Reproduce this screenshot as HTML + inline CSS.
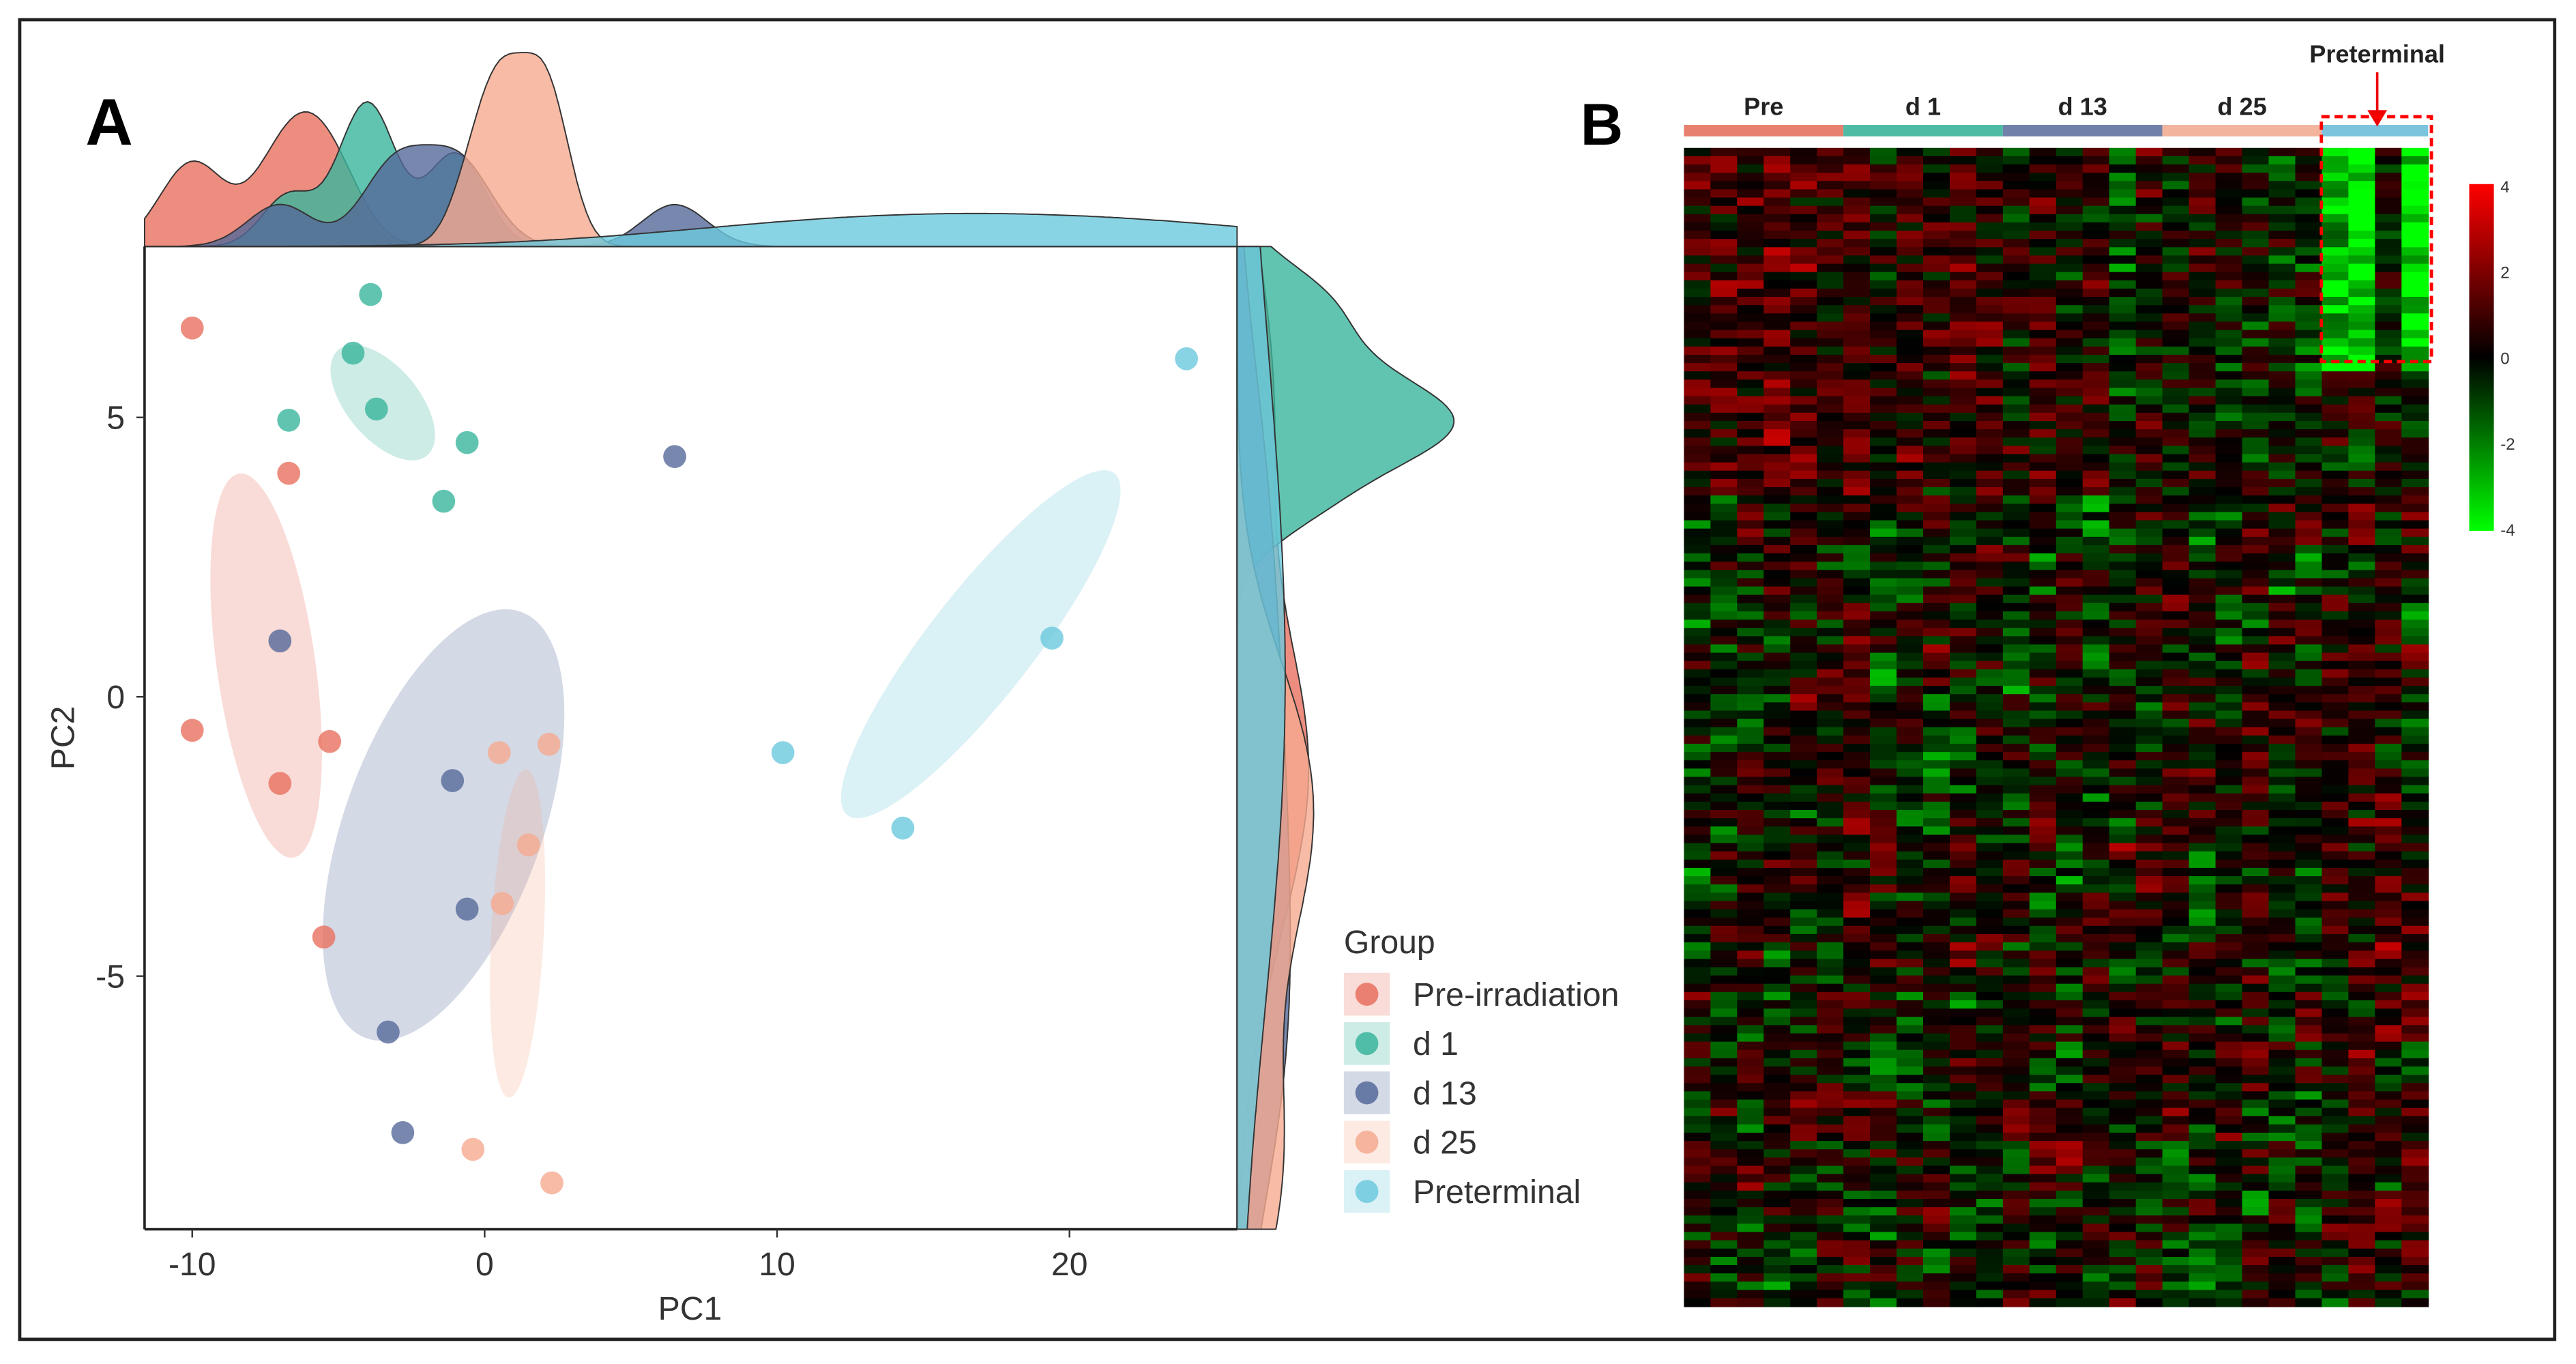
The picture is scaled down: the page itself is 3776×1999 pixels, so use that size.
<!DOCTYPE html>
<html><head><meta charset="utf-8"><style>
html,body{margin:0;padding:0;background:#fff;}
svg{display:block;font-family:"Liberation Sans",sans-serif;}
</style></head><body>
<svg id="fig" width="3776" height="1999" viewBox="0 0 1568 830" preserveAspectRatio="none">
<rect x="12" y="12" width="1543" height="803" fill="#fff" stroke="#222" stroke-width="2"/>
<text x="52" y="88" font-size="40" font-weight="bold">A</text>
<text x="962" y="88" font-size="36" font-weight="bold">B</text>
<g id="pca"></g>
<g id="heat"></g>
</svg>
<script>
const groups = ["Pre-irradiation","d 1","d 13","d 25","Preterminal"];
const colors = ["#E8705F","#3AB59C","#55699A","#F5AA90","#6CC9DD"];
const pc1Pre = [-10,-6.7,-10,-5.3,-7,-5.5];
const pc2Pre = [6.6,4,-0.6,-0.8,-1.55,-4.3];
const pc1D1 = [-3.9,-4.5,-3.7,-6.7,-0.6,-1.4];
const pc2D1 = [7.2,6.15,5.15,4.95,4.55,3.5];
const pc1D13 = [6.5,-7,-1.1,-0.6,-3.3,-2.8];
const pc2D13 = [4.3,1,-1.5,-3.8,-6,-7.8];
const pc1D25 = [0.5,2.2,1.5,0.6,-0.4,2.3];
const pc2D25 = [-1,-0.85,-2.65,-3.7,-8.1,-8.7];
const pc1PT = [24,19.4,10.2,14.3];
const pc2PT = [6.05,1.05,-1,-2.35];
const xTicks = [-10,0,10,20];
const yTicks = [5,0,-5];
const heatGroups = ["Pre","d 1","d 13","d 25"];
const heatGroupCols = [6,6,6,6,4];
const cbTicks = [4,2,0,-2,-4];

const NS="http://www.w3.org/2000/svg";
function el(tag,attrs,parent,text){const e=document.createElementNS(NS,tag);for(const k in attrs)e.setAttribute(k,attrs[k]);if(text!==undefined)e.textContent=text;parent.appendChild(e);return e;}
const X0=88,X1=753,Y0=150,Y1=748;
const xs=v=>295+17.8*v, ys=v=>424-34*v;
const pca=document.getElementById('pca');
const xsData=[pc1Pre,pc1D1,pc1D13,pc1D25,pc1PT], ysData=[pc2Pre,pc2D1,pc2D13,pc2D25,pc2PT];

// ellipse geometry (pixel): cx, cy, rx, ry, rotation
const ellGeom=[[162,405,30,118,-8],[233,245,22,42,-40],[270,502,60,138,20],[315,568,16,100,3],[597,392,32,132,38]];
ellGeom.forEach((e,g)=>{
  const p=el('ellipse',{cx:e[0],cy:e[1],rx:e[2],ry:e[3],transform:`rotate(${e[4]} ${e[0]} ${e[1]})`,fill:colors[g],'fill-opacity':g===2?0.25:0.25},pca);
  
  
});
// points
xsData.forEach((gx,g)=>gx.forEach((v,i)=>{
  const c=el('circle',{cx:xs(v),cy:ys(ysData[g][i]),r:7,fill:colors[g],'fill-opacity':0.8},pca);
  
  
}));
// KDE marginals
function kde(arr,bw,lo,hi,N){const n=arr.length;
  const out=[];for(let i=0;i<=N;i++){const x=lo+(hi-lo)*i/N;let s=0;arr.forEach(v=>s+=Math.exp(-0.5*((x-v)/bw)**2));out.push([x,s/(n*bw*Math.sqrt(2*Math.PI))]);}return out;}
const bwX=[1.1,0.9,1.1,0.75,6];
const bwY=[2.3,0.7,2.6,2.2,5];
const xlo=(X0-295)/17.8,xhi=(X1-295)/17.8,yhi=(424-Y0)/34,ylo=(424-Y1)/34;
const topK=xsData.map((a,g)=>kde(a,bwX[g],xlo,xhi,240));
const rightK=ysData.map((a,g)=>kde(a,bwY[g],ylo,yhi,240));
const topMax=Math.max(...topK.map(k=>Math.max(...k.map(p=>p[1]))));
const rMax=Math.max(...rightK.map(k=>Math.max(...k.map(p=>p[1]))));
[0,1,2,3,4].forEach(g=>{
  let d=`M${X0},${Y0}`;topK[g].forEach(p=>d+=`L${xs(p[0]).toFixed(1)},${(Y0-p[1]/topMax*118).toFixed(1)}`);d+=`L${X1},${Y0}Z`;
  const p=el('path',{d,fill:colors[g],'fill-opacity':0.8,stroke:'#333','stroke-width':0.8},pca);
  
  let d2=`M${X1},${Y1}`;rightK[g].forEach(q=>d2+=`L${(X1+q[1]/rMax*132).toFixed(1)},${ys(q[0]).toFixed(1)}`);d2+=`L${X1},${Y0}Z`;
  const r=el('path',{d:d2,fill:colors[g],'fill-opacity':0.8,stroke:'#333','stroke-width':0.8},pca);
  
});
// axes
el('line',{x1:X0,y1:Y0,x2:X0,y2:Y1,stroke:'#222','stroke-width':1.5},pca);
el('line',{x1:X0,y1:Y1,x2:X1,y2:Y1,stroke:'#222','stroke-width':1.5},pca);
xTicks.forEach(t=>{el('line',{x1:xs(t),x2:xs(t),y1:Y1,y2:Y1+5,stroke:'#333'},pca);
  const tx=el('text',{x:xs(t),y:Y1+28,'font-size':20,'text-anchor':'middle',fill:'#333'},pca,String(t));
  
  });
yTicks.forEach(t=>{el('line',{x1:X0-5,x2:X0,y1:ys(t),y2:ys(t),stroke:'#333'},pca);
  const tx=el('text',{x:X0-12,y:ys(t)+7,'font-size':20,'text-anchor':'end',fill:'#333'},pca,String(t));
  
  });
const xt=el('text',{x:420,y:803,'font-size':20,'text-anchor':'middle',fill:'#333'},pca,'PC1');

const yt=el('text',{x:0,y:0,'font-size':20,'text-anchor':'middle',fill:'#333',transform:'translate(45,449) rotate(-90)'},pca,'PC2');

// legend
const lt=el('text',{x:818,y:580,'font-size':20,fill:'#333'},pca,'Group');

groups.forEach((g,i)=>{const y=605+i*30;
  const lg=el('g',{},pca);
  el('rect',{x:818,y:y-13,width:28,height:26,fill:colors[i],'fill-opacity':0.25},lg);
  el('circle',{cx:832,cy:y,r:7,fill:colors[i],'fill-opacity':0.85},lg);
  el('text',{x:860,y:y+7,'font-size':20,fill:'#333'},lg,g);});

// heatmap
const heat=document.getElementById('heat');
const HX0=1025,HX1=1478,HY0=90,HY1=795,NR=140;
const NC=heatGroupCols.reduce((a,b)=>a+b);
function hsh(a,b){let h=(a*374761393+b*668265263)|0;h=(h^(h>>>13))*1274126177|0;h=h^(h>>>16);return ((h>>>0)%10000)/10000*2-1;}
const colBias=[0.8,1.0,0.7,1.1,0.9,0.4, 0.6,0.3,0.8,0.5,0.9,0.7, 0.3,0.5,0.1,0.4,-0.6,0.2, 0.2,0.3,0.1,0.0,-0.3,-0.4, -2.6,-3.0,0.0,-3.4];
const cw=(HX1-HX0)/NC,rh=(HY1-HY0)/NR;
for(let c=0;c<NC;c++)for(let r=0;r<NR;r++){
  const rb=hsh(Math.floor(r/3),c+99)*0.6;
  let v=(r<42?colBias[c]*(c>=24&&r>26?0.1:1):hsh(c,Math.floor(r/6))*0.9)+1.3*hsh(r,c)+rb;
  if(c>=24&&r>=27)v+=0.3;
  const R=Math.round(Math.min(1,Math.max(0,v/4))*255*1.1),G=Math.round(Math.min(1,Math.max(0,-v/4))*255*1.2);
  const cell=el('rect',{x:(HX0+c*cw).toFixed(2),y:(HY0+r*rh).toFixed(2),width:(cw+0.4).toFixed(2),height:(rh+0.4).toFixed(2),fill:`rgb(${Math.min(R,255)},${Math.min(G,255)},0)`},heat);
  
  
}
// group bar
const barCols=["#E8806F","#4FBBA5","#7080A8","#F2B49C","#7CC3DE"];
let cc=0;heatGroupCols.forEach((n,i)=>{const x=HX0+cc*cw,w=n*cw;
  const b=el('rect',{x,y:76,width:w,height:7,fill:barCols[i]},heat);
  
  if(i<4){const t=el('text',{x:x+w/2,y:70,'font-size':15,'font-weight':'bold','text-anchor':'middle',fill:'#222'},heat,heatGroups[i]);
    }
  cc+=n;});
const pt=el('text',{x:1447,y:38,'font-size':15,'font-weight':'bold','text-anchor':'middle',fill:'#222'},heat,'Preterminal');

el('line',{x1:1447,y1:44,x2:1447,y2:70,stroke:'#e00','stroke-width':1.5},heat);
el('path',{d:'M1441,67 L1453,67 L1447,77Z',fill:'#e00'},heat);
const box=el('rect',{x:1413,y:71,width:67,height:149,fill:'none',stroke:'#f00','stroke-width':2,'stroke-dasharray':'5,3'},heat);

// colorbar
const defs=el('defs',{},heat);const lg=el('linearGradient',{id:'cb',x1:0,y1:0,x2:0,y2:1},defs);
el('stop',{offset:'0','stop-color':'#ff0000'},lg);el('stop',{offset:'0.5','stop-color':'#000'},lg);el('stop',{offset:'1','stop-color':'#00ff00'},lg);
const cb=el('rect',{x:1503,y:112,width:15,height:211,fill:'url(#cb)'},heat);

cbTicks.forEach(t=>{const y=217.5-t*26.1;
  const tx=el('text',{x:1522,y:y+4,'font-size':10,fill:'#333'},heat,String(t));
  });
</script>
</body></html>
